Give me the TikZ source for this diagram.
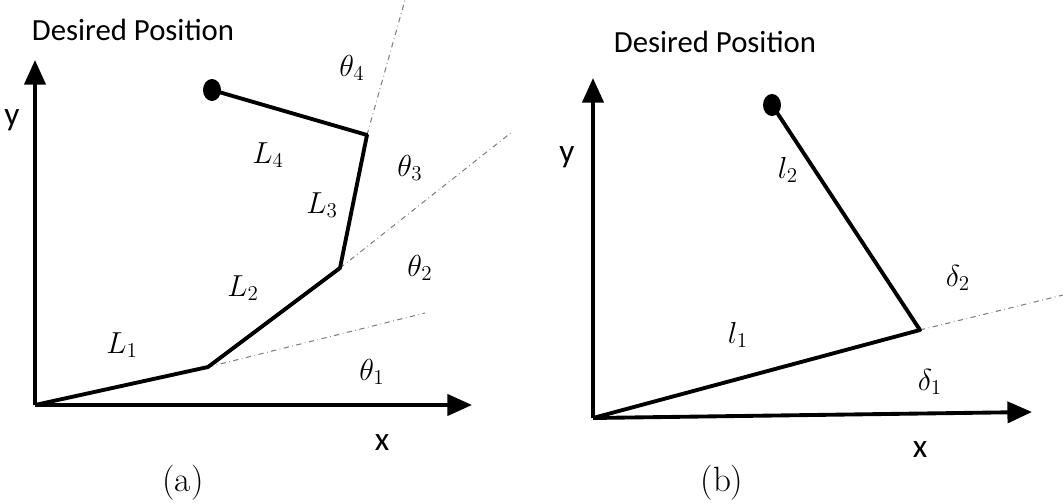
\documentclass[tikz,border=0pt]{standalone}
\usepackage{fontspec}
\newfontfamily\calib{Carlito}
\usetikzlibrary{arrows.meta}
\begin{document}
\begin{tikzpicture}[x=0.02cm,y=-0.02cm,
  axis/.style={line width=2.2pt,-{Triangle[length=14pt,width=12pt]}},
  link/.style={line width=2.2pt,line join=round},
  guide/.style={gray,dash dot,line width=0.6pt},
  sf/.style={font=\calib\fontsize{17.5}{17.5}\selectfont},
  ax/.style={font=\calib\fontsize{19}{19}\selectfont},
  ml/.style={font=\fontsize{17}{17}\selectfont},
  captext/.style={font=\fontsize{20}{20}\selectfont}]
\useasboundingbox (0,0) rectangle (1063,504);
% panel a
\coordinate (o) at (35,405);
\coordinate (ya) at (35,60);
\coordinate (xa) at (472,405);
\coordinate (j1) at (208,367);
\coordinate (j2) at (340,268);
\coordinate (j3) at (367,135);
\coordinate (e) at (212,90);
\coordinate (g1) at (425,313);
\coordinate (g2) at (512,132);
\coordinate (g3) at (405,0);
\draw[guide] (j1)--(g1); \draw[guide] (j2)--(g2); \draw[guide] (j3)--(g3);
\draw[axis] (o)--(ya); \draw[axis] (o)--(xa);
\draw[link] (o)--(j1)--(j2)--(j3)--(e);
\fill (e) ellipse (9 and 11);
\node[sf] (dpa) at (133,30) {Desired Position};
\node[ml] (t4) at (352,68) {$\theta_4$};
\node[ml] (t3) at (410,168) {$\theta_3$};
\node[ml] (t2) at (420,268) {$\theta_2$};
\node[ml] (t1) at (372,372) {$\theta_1$};
\node[ml] (l4) at (268,155) {$L_4$};
\node[ml] (l3) at (322,205) {$L_3$};
\node[ml] (l2) at (243,288) {$L_2$};
\node[ml] (l1) at (122,345) {$L_1$};
\node[ax] (ylab) at (12,120) {y};
\node[ax] (xlab) at (382,443) {x};
\node[captext] (ca) at (183,483) {(a)};
% panel b
\coordinate (ob) at (593,418);
\coordinate (yb) at (593,78);
\coordinate (xb) at (1032,412);
\coordinate (k1) at (920,330);
\coordinate (eb) at (772,105);
\coordinate (gb) at (1063,295);
\draw[guide] (k1)--(gb);
\draw[axis] (ob)--(yb); \draw[axis] (ob)--(xb);
\draw[link] (ob)--(k1)--(eb);
\fill (eb) ellipse (9 and 11);
\node[sf] (dpb) at (715,42) {Desired Position};
\node[ax] (ylb) at (567,157) {y};
\node[ml] (m2) at (788,170) {$l_2$};
\node[ml] (d2) at (958,278) {$\delta_2$};
\node[ml] (m1) at (738,335) {$l_1$};
\node[ml] (d1) at (930,382) {$\delta_1$};
\node[ax] (xlb) at (920,450) {x};
\node[captext] (cb) at (722,483) {(b)};
\end{tikzpicture}
\end{document}
